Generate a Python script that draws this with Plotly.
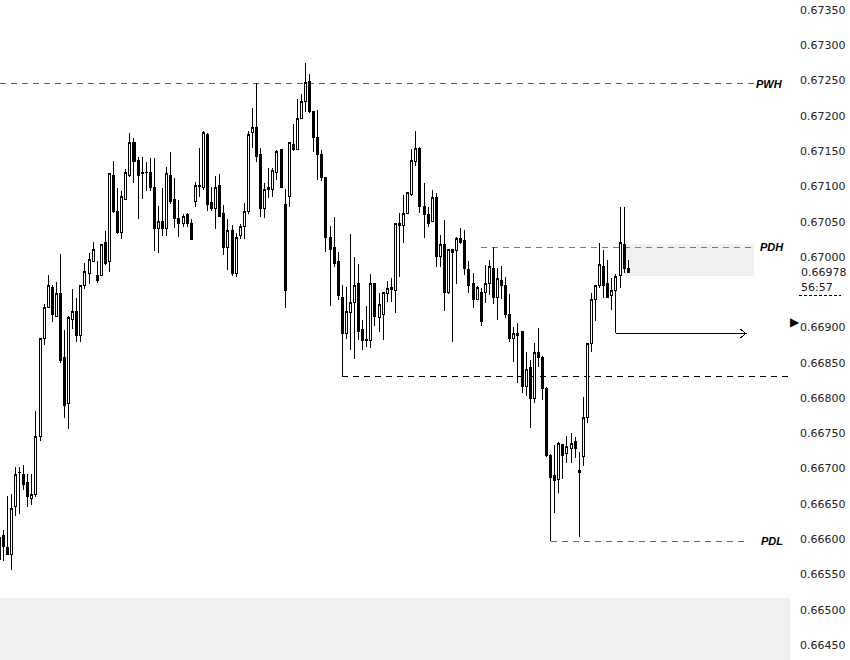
import plotly.graph_objects as go

# ---------------- data ----------------
bar_index = list(range(155))

open_ = [
0.66571,0.66605,0.66588,0.66578,0.66646,0.66694,0.66692,0.66680,0.66658,0.66663,
0.66745,0.66884,0.66928,0.66957,0.66916,0.66948,0.66857,0.66792,0.66912,0.66923,
0.66888,0.66959,0.66977,0.66994,0.66974,0.66974,0.67020,0.66993,0.67116,0.67065,
0.67034,0.67082,0.67116,0.67162,0.67137,0.67119,0.67119,0.67120,0.67099,0.67040,
0.67050,0.67040,0.67116,0.67081,0.67054,0.67048,0.67060,0.67048,0.67079,0.67101,
0.67098,0.67174,0.67077,0.67069,0.67101,0.67061,0.67014,0.67038,0.66977,0.67030,
0.67043,0.67065,0.67176,0.67183,0.67145,0.67069,0.67095,0.67095,0.67119,0.67152,
0.67075,0.67085,0.67160,0.67152,0.67196,0.67220,0.67248,0.67206,0.67169,0.67145,
0.67113,0.67027,0.67014,0.66993,0.66943,0.66892,0.66921,0.66935,0.66962,0.66897,
0.66882,0.66881,0.66962,0.66914,0.66919,0.66948,0.66956,0.66952,0.67044,0.67045,
0.67062,0.67088,0.67136,0.67154,0.67071,0.67060,0.67050,0.67084,0.67000,0.67018,
0.66949,0.67010,0.67009,0.67026,0.67024,0.66982,0.66962,0.66940,0.66950,0.66949,
0.66962,0.66984,0.66942,0.66967,0.66960,0.66919,0.66885,0.66888,0.66894,0.66817,
0.66843,0.66800,0.66865,0.66858,0.66814,0.66718,0.66690,0.66685,0.66734,0.66721,
0.66729,0.66739,0.66698,0.66717,0.66773,0.66878,0.66940,0.66960,0.66987,0.66962,
0.66946,0.66952,0.66973,0.67018,0.66983]

high = [
0.66609,0.66613,0.66661,0.66664,0.66702,0.66702,0.66705,0.66692,0.66692,0.66782,
0.66885,0.66933,0.66974,0.66960,0.66965,0.67004,0.66897,0.66916,0.66955,0.66942,
0.66959,0.66991,0.67006,0.67021,0.66994,0.67018,0.67037,0.67119,0.67136,0.67098,
0.67094,0.67125,0.67176,0.67169,0.67142,0.67142,0.67135,0.67140,0.67140,0.67072,
0.67098,0.67128,0.67149,0.67112,0.67081,0.67061,0.67062,0.67054,0.67106,0.67154,
0.67179,0.67175,0.67099,0.67115,0.67118,0.67074,0.67054,0.67045,0.67034,0.67047,
0.67077,0.67179,0.67211,0.67247,0.67154,0.67105,0.67126,0.67126,0.67152,0.67153,
0.67096,0.67162,0.67189,0.67224,0.67231,0.67275,0.67259,0.67207,0.67208,0.67152,
0.67114,0.67044,0.67057,0.67007,0.66960,0.66957,0.67033,0.67000,0.66990,0.66911,
0.66931,0.66976,0.66963,0.66949,0.66950,0.66966,0.66970,0.67048,0.67062,0.67088,
0.67091,0.67153,0.67179,0.67156,0.67105,0.67071,0.67095,0.67091,0.67031,0.67052,
0.67011,0.67011,0.67028,0.67041,0.67038,0.66994,0.66977,0.66959,0.66956,0.66989,
0.66996,0.67014,0.66984,0.66987,0.66972,0.66948,0.66901,0.66906,0.66895,0.66865,
0.66854,0.66878,0.66899,0.66859,0.66815,0.66721,0.66734,0.66738,0.66735,0.66746,
0.66751,0.66745,0.66724,0.66802,0.66878,0.66949,0.66960,0.67020,0.67010,0.66996,
0.66970,0.66976,0.67071,0.67071,0.66996]

low = [
0.66531,0.66569,0.66578,0.66556,0.66633,0.66636,0.66670,0.66646,0.66649,0.66660,
0.66739,0.66875,0.66927,0.66908,0.66915,0.66850,0.66772,0.66756,0.66898,0.66880,
0.66880,0.66955,0.66962,0.66993,0.66963,0.66973,0.66989,0.66979,0.67062,0.67033,
0.67026,0.67081,0.67113,0.67105,0.67054,0.67082,0.67094,0.67094,0.67009,0.67006,
0.67030,0.67030,0.67075,0.67041,0.67028,0.67043,0.67043,0.67024,0.67071,0.67085,
0.67095,0.67065,0.67065,0.67040,0.67057,0.67003,0.66982,0.66973,0.66972,0.67026,
0.67026,0.67061,0.67154,0.67135,0.67057,0.67055,0.67084,0.67085,0.67109,0.67098,
0.66928,0.67071,0.67150,0.67151,0.67195,0.67206,0.67204,0.67149,0.67109,0.67108,
0.67007,0.66931,0.66986,0.66939,0.66882,0.66884,0.66868,0.66855,0.66882,0.66868,
0.66872,0.66871,0.66902,0.66894,0.66882,0.66936,0.66936,0.66921,0.66972,0.67020,
0.67061,0.67086,0.67129,0.67062,0.67027,0.67043,0.67049,0.66986,0.66986,0.66923,
0.66948,0.66880,0.66962,0.67018,0.66974,0.66949,0.66928,0.66939,0.66902,0.66935,
0.66946,0.66933,0.66911,0.66940,0.66914,0.66880,0.66851,0.66821,0.66807,0.66803,
0.66758,0.66793,0.66844,0.66797,0.66717,0.66597,0.66637,0.66666,0.66685,0.66708,
0.66708,0.66715,0.66603,0.66704,0.66765,0.66865,0.66909,0.66956,0.66942,0.66943,
0.66925,0.66939,0.66956,0.66977,0.66977]

close = [
0.66602,0.66589,0.66578,0.66644,0.66692,0.66695,0.66677,0.66660,0.66663,0.66745,
0.66885,0.66928,0.66959,0.66918,0.66948,0.66853,0.66789,0.66914,0.66923,0.66888,
0.66959,0.66979,0.66997,0.67011,0.66966,0.67018,0.66991,0.67118,0.67065,0.67034,
0.67085,0.67119,0.67162,0.67136,0.67116,0.67118,0.67120,0.67099,0.67040,0.67050,
0.67040,0.67118,0.67079,0.67054,0.67048,0.67058,0.67048,0.67025,0.67101,0.67100,
0.67176,0.67075,0.67069,0.67099,0.67058,0.67014,0.67037,0.66977,0.67028,0.67043,
0.67065,0.67174,0.67183,0.67142,0.67068,0.67096,0.67098,0.67122,0.67150,0.67098,
0.66952,0.67162,0.67152,0.67196,0.67220,0.67247,0.67206,0.67169,0.67145,0.67113,
0.67027,0.67011,0.66991,0.66945,0.66892,0.66922,0.66936,0.66960,0.66894,0.66881,
0.66883,0.66963,0.66915,0.66932,0.66949,0.66955,0.66954,0.67047,0.67048,0.67062,
0.67091,0.67137,0.67154,0.67071,0.67060,0.67048,0.67084,0.67000,0.67018,0.66949,
0.67011,0.67007,0.67026,0.67021,0.66983,0.66960,0.66940,0.66957,0.66909,0.66963,
0.66986,0.66943,0.66969,0.66959,0.66919,0.66884,0.66892,0.66892,0.66816,0.66841,
0.66800,0.66864,0.66858,0.66813,0.66718,0.66687,0.66683,0.66735,0.66719,0.66731,
0.66736,0.66729,0.66694,0.66773,0.66878,0.66940,0.66960,0.66989,0.66960,0.66943,
0.66952,0.66972,0.67021,0.66984,0.66978]

# key levels
pwh_level = 0.672458
pdh_level = 0.670134
pdl_level = 0.665967
swing_level = 0.668305
target_level = 0.668915
current_price = 0.66978
timer_text = "56:57"

tick_values = [0.6645, 0.6650, 0.6655, 0.6660, 0.6665, 0.6670, 0.6675, 0.6680,
               0.6685, 0.6690, 0.6700, 0.6705, 0.6710, 0.6715, 0.6720,
               0.6725, 0.6730, 0.6735]
tick_labels = ["%.5f" % v for v in tick_values]

# ---------------- figure ----------------
fig = go.Figure()
fig.add_trace(go.Candlestick(
    x=bar_index, open=open_, high=high, low=low, close=close,
    increasing=dict(line=dict(color="#000000", width=1), fillcolor="#ffffff"),
    decreasing=dict(line=dict(color="#000000", width=1), fillcolor="#000000"),
    whiskerwidth=0, showlegend=False, hoverinfo="skip",
))

x_range = [0.196, 193.6]
y_range = [0.664287, 0.673642]

shapes = []
# bottom grey band
shapes.append(dict(type="rect", xref="paper", yref="y", x0=0, x1=1,
                   y0=y_range[0], y1=0.66517, fillcolor="#f0f0f0",
                   line=dict(width=0), layer="below"))
# PDH zone
shapes.append(dict(type="rect", xref="x", yref="y", x0=152, x1=184.8,
                   y0=0.66973, y1=0.67018, fillcolor="#f0f0f0",
                   line=dict(width=0), layer="below"))
# PWH
shapes.append(dict(type="line", xref="paper", yref="y", x0=0, x1=0.955,
                   y0=pwh_level, y1=pwh_level,
                   line=dict(color="#2a5ce6", width=1, dash="6px,5px"), layer="below"))
# PDH
shapes.append(dict(type="line", xref="x", yref="y", x0=117.9, x1=184.8,
                   y0=pdh_level, y1=pdh_level,
                   line=dict(color="#3fa34d", width=1, dash="6px,5px"), layer="below"))
# PDL
shapes.append(dict(type="line", xref="x", yref="y", x0=135, x1=183.3,
                   y0=pdl_level, y1=pdl_level,
                   line=dict(color="#e0304a", width=1, dash="6px,5px"), layer="below"))
# swing level: vertical solid + dashed horizontal
shapes.append(dict(type="line", xref="x", yref="y", x0=84, x1=84,
                   y0=close[84], y1=swing_level,
                   line=dict(color="#000000", width=1), layer="below"))
shapes.append(dict(type="line", xref="x", yref="y", x0=84, x1=193.1,
                   y0=swing_level, y1=swing_level,
                   line=dict(color="#000000", width=1, dash="6px,5px"), layer="below"))
# arrow projection
shapes.append(dict(type="line", xref="x", yref="y", x0=151, x1=151,
                   y0=open_[151], y1=target_level,
                   line=dict(color="#000000", width=1), layer="below"))
shapes.append(dict(type="line", xref="x", yref="y", x0=151, x1=182.8,
                   y0=target_level, y1=target_level,
                   line=dict(color="#000000", width=1), layer="below"))
shapes.append(dict(type="path", xref="x", yref="y",
                   path="M 181.3 %.6f L 182.8 %.6f L 181.3 %.6f" % (
                       target_level + 0.00007, target_level, target_level - 0.00007),
                   line=dict(color="#000000", width=1), layer="below"))
# small dashed line under timer
shapes.append(dict(type="line", xref="paper", yref="y", x0=1.011, x1=1.064,
                   y0=0.669447, y1=0.669447,
                   line=dict(color="#000000", width=1, dash="3px,2px")))

annotations = []
lab_font = dict(family="Liberation Sans", size=11, color="#000000")
for txt, lvl, xi in [("PWH", pwh_level, 188.7), ("PDH", pdh_level, 189.2), ("PDL", pdl_level, 189.2)]:
    annotations.append(dict(x=xi, y=lvl, xref="x", yref="y", text="<b><i>%s</i></b>" % txt,
                            showarrow=False, font=lab_font, bgcolor="#ffffff",
                            xanchor="center", yanchor="middle"))
axis_font = dict(family="DejaVu Sans", size=11, color="#222222")
annotations.append(dict(x=1, y=current_price, xref="paper", yref="y", text="%.5f" % current_price,
                        showarrow=False, font=axis_font, xanchor="left", xshift=9,
                        yanchor="middle"))
annotations.append(dict(x=1, y=0.66957, xref="paper", yref="y", text=timer_text,
                        showarrow=False, font=axis_font, xanchor="left", xshift=9,
                        yanchor="middle"))
annotations.append(dict(x=1, y=0.66909, xref="paper", yref="y", text="\u25B6",
                        showarrow=False, font=dict(size=12, color="#000000"),
                        xanchor="left", xshift=-2, yanchor="middle"))

fig.update_layout(
    width=850, height=660,
    margin=dict(l=0, r=60, t=0, b=0),
    paper_bgcolor="#ffffff", plot_bgcolor="#ffffff",
    shapes=shapes, annotations=annotations,
    showlegend=False,
    xaxis=dict(range=x_range, showticklabels=False, showgrid=False, zeroline=False,
               showline=False, ticks="", rangeslider=dict(visible=False), fixedrange=True),
    yaxis=dict(range=y_range, side="right", showgrid=False, zeroline=False, showline=False,
               tickmode="array", tickvals=tick_values, ticktext=tick_labels,
               tickfont=axis_font, ticks="", ticklabelstandoff=9, fixedrange=True),
)

post_js = (
    "document.body.style.margin='0';"
    "var st=document.createElement('style');"
    "st.innerHTML='.boxlayer path, .shapelayer path {shape-rendering: crispEdges;}';"
    "document.head.appendChild(st);"
)
fig.write_html("out.html", config={"displayModeBar": False}, post_script=post_js)
